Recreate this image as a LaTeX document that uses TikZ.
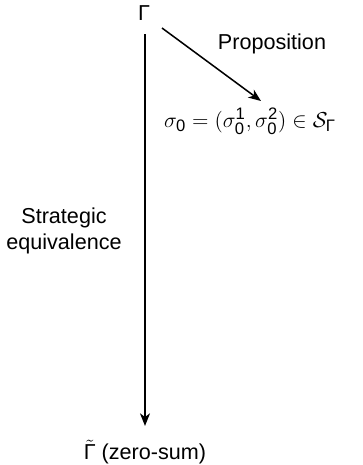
\documentclass[tikz,border=0pt]{standalone}
\usepackage{amsmath}
\usepackage{fontspec}
\setmainfont{Liberation Sans}
\usetikzlibrary{arrows.meta}
\newcommand{\mdig}[1]{\text{#1}}
\begin{document}
\begin{tikzpicture}[x=0.5556pt,y=-0.5556pt,
  lbl/.style={inner sep=1pt,font=\fontsize{12}{14}\selectfont},
  mlbl/.style={inner sep=1pt,font=\fontsize{13.2}{15}\selectfont},
  arr/.style={line width=0.85pt,-{Stealth[length=7pt,width=5.5pt,inset=2pt]}}]
\useasboundingbox (0,0) rectangle (362,465);
\node[lbl] (gamma) at (144,13) {Γ};
\node[lbl] (zs) at (145,452) {$\tilde{\text{Γ}}$ (zero-sum)};
\node[lbl] (prop) at (272,44) {Proposition};
\node[mlbl] (sigma) at (250,121) {$\sigma_{\mdig{0}}=(\sigma_{\mdig{0}}^{\mdig{1}},\sigma_{\mdig{0}}^{\mdig{2}})\in\mathcal{S}_{\text{Γ}}$};
\node[lbl,align=center] (se) at (64,231) {Strategic\\equivalence};
\coordinate (top) at (145,34);
\coordinate (bot) at (145,426);
\coordinate (pa) at (162,28);
\coordinate (pb) at (261,101);
\draw[arr] (top) -- (bot);
\draw[arr] (pa) -- (pb);
\end{tikzpicture}
\end{document}
